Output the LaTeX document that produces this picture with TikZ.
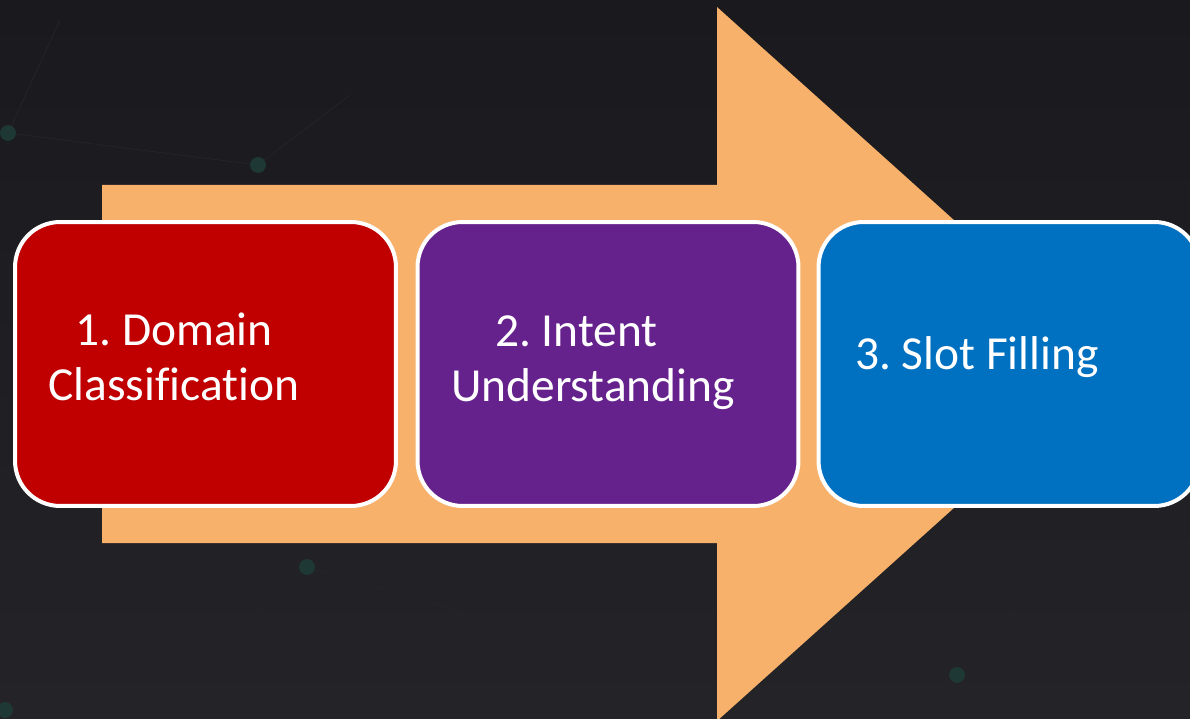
\documentclass[tikz,border=0pt]{standalone}
\usepackage{fontspec}
\setmainfont{Carlito}[Ligatures=NoCommon]
\usepackage{tikz}
\usetikzlibrary{positioning}
\definecolor{bgtop}{RGB}{26,25,30}
\definecolor{bgbottom}{RGB}{36,36,40}
\definecolor{arroworange}{RGB}{247,177,107}
\definecolor{domainred}{RGB}{192,0,0}
\definecolor{intentpurple}{RGB}{102,34,140}
\definecolor{slotblue}{RGB}{0,112,192}
\definecolor{netline}{RGB}{36,36,42}
\definecolor{netdot}{RGB}{30,56,54}
\tikzset{stagebox/.style = {draw=white, line width=0.08cm, rounded corners=0.9cm,
                            minimum width=7.62cm, minimum height=5.68cm, inner sep=0pt},
         stagetext/.style = {text=white, align=center, inner sep=0pt,
                             font=\fontsize{27}{31.3}\selectfont\frenchspacing}}

\begin{document}
\begin{tikzpicture}[x=0.02cm, y=-0.02cm]
      \useasboundingbox (0, 0) rectangle (1190, 719);
      \shade [top color=bgtop, bottom color=bgbottom] (0, 0) rectangle (1190, 719);

      \draw [netline, line width=0.4pt] (8, 133) -- (258, 165) -- (350, 95);
      \draw [netline, line width=0.4pt] (8, 133) -- (60, 20);
      \draw [netline, line width=0.4pt] (307, 567) -- (160, 700) -- (5, 710);
      \draw [netline, line width=0.4pt] (307, 567) -- (560, 640);
      \draw [netline, line width=0.4pt] (957, 675) -- (780, 650);
      \draw [netline, line width=0.4pt] (957, 675) -- (1060, 560);
      \fill [netdot] (8, 133) circle (4.5pt);
      \fill [netdot] (258, 165) circle (4.5pt);
      \fill [netdot] (307, 567) circle (4.5pt);
      \fill [netdot] (957, 675) circle (4.5pt);
      \fill [netdot] (5, 710) circle (4.5pt);

      \fill [arroworange] (102, 185) -- (717, 185) -- (717, 7) -- (1114, 364)
                          -- (717, 721) -- (717, 543) -- (102, 543) -- cycle;

      \node [stagebox, fill=domainred] (domain) at (205.5, 364) {};
      \node [stagebox, fill=intentpurple] (intent) at (608, 364) {};
      \node [stagebox, fill=slotblue] (slot) at (1009, 364) {};

      \node [stagetext] (domainlabel) at (174, 356.5) {1. Domain\\Classification};
      \node [stagetext] (intentlabel) at (593, 362.5) {2. Intent\hspace*{0.66cm}\\Understanding};
      \node [stagetext, anchor=base] (slotlabel) at (977, 370) {3. Slot Filling};
    \end{tikzpicture}
\end{document}
